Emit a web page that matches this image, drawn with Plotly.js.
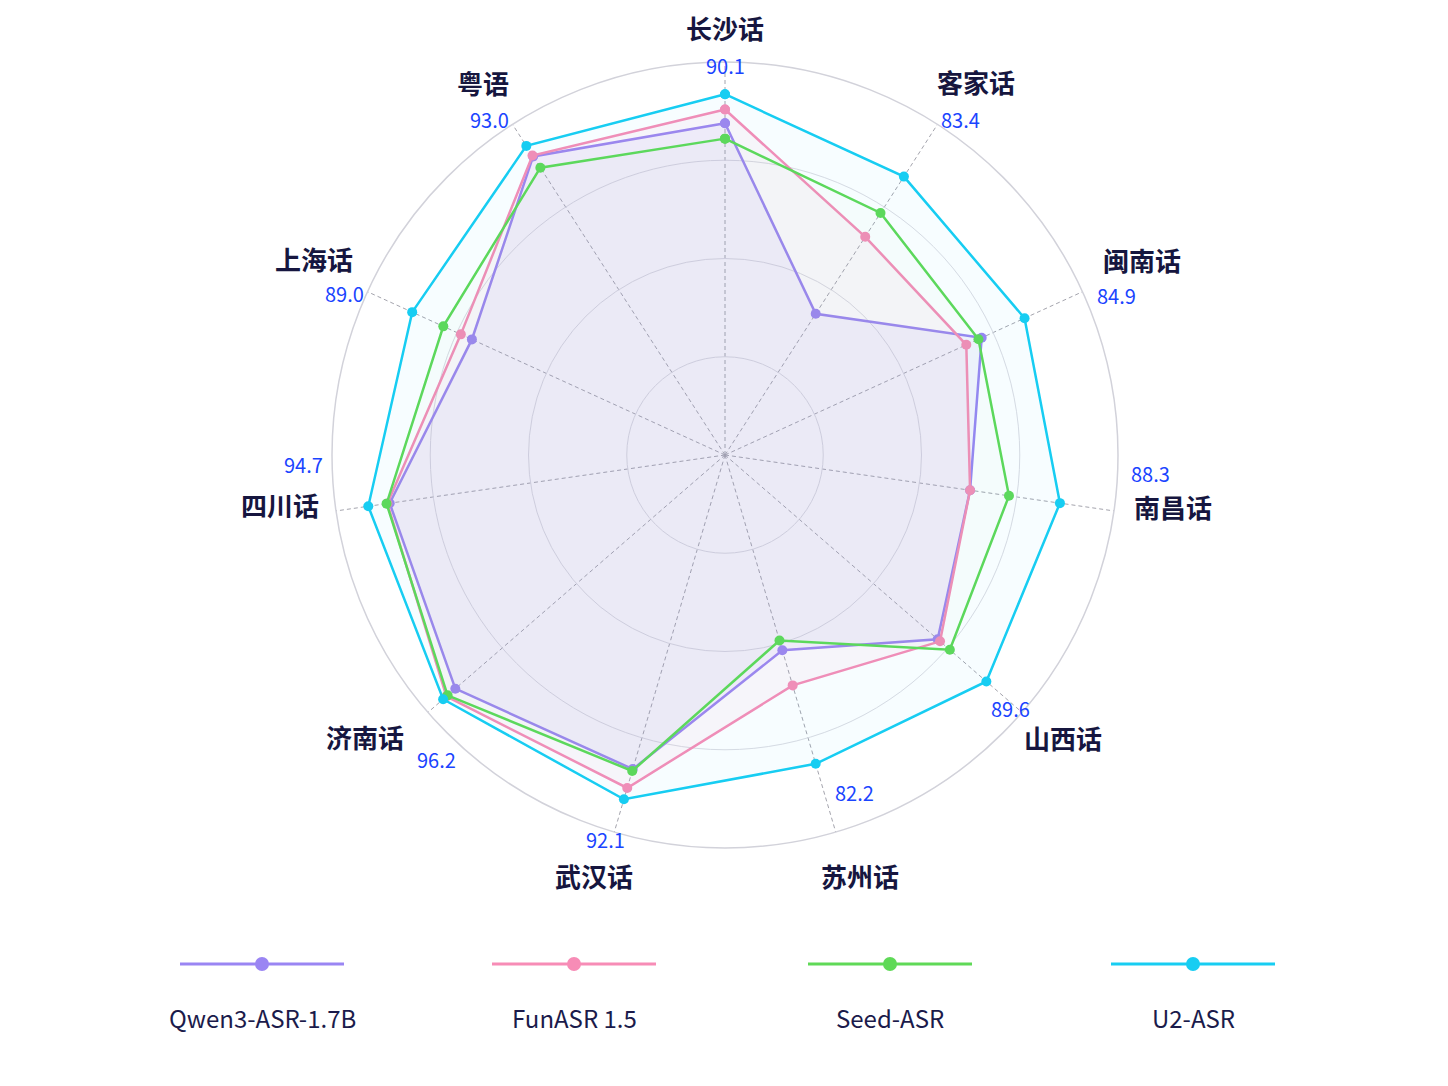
<!DOCTYPE html>
<html>
<head>
<meta charset="utf-8">
<script src="https://cdn.plot.ly/plotly-3.0.1.min.js"></script>
<style>
    html, body { margin: 0; padding: 0; background: #ffffff; }
    #radar-chart { width: 1448px; height: 1086px; }
</style>
</head>
<body>
<div id="radar-chart"></div>
<script>
// dialects, clockwise from the top
const dialects = ['长沙话', '客家话', '闽南话', '南昌话', '山西话', '苏州话', '武汉话', '济南话', '四川话', '上海话', '粤语'];

// radar positions per model (0-100 on every axis)
const qwenValues = [84.4, 42.7, 71.8, 63.0, 71.6, 51.8, 83.3, 90.8, 86.2, 70.8, 90.3];
const funasrValues = [87.9, 66.0, 67.5, 63.0, 72.4, 61.1, 88.3, 93.8, 86.8, 73.9, 90.6];
const seedValues = [80.5, 73.2, 70.9, 73.0, 75.7, 49.2, 83.8, 93.4, 87.0, 78.8, 86.9];
const u2Values = [91.8, 84.2, 83.8, 86.1, 88.0, 81.9, 91.3, 94.9, 91.7, 87.5, 93.5];

// U2-ASR score printed at each axis
const u2Scores = ['90.1', '83.4', '84.9', '88.3', '89.6', '82.2', '92.1', '96.2', '94.7', '89.0', '93.0'];

const modelNames = ['Qwen3-ASR-1.7B', 'FunASR 1.5', 'Seed-ASR', 'U2-ASR'];

// label placement around the circle: [degrees clockwise from top, radius in axis units]
const nameSpots = [
    [0, 108.9], [33.9, 114.4], [64.9, 117.1], [96.5, 114.7], [129.9, 112.2], [162.2, 112.3],
    [197.3, 112.0], [232.0, 116.2], [263.6, 113.9], [295.5, 115.9], [327.0, 113.1],
];
const scoreSpots = [
    [0, 99.2], [35, 104.3], [67.8, 107.7], [92.5, 108.5], [131.6, 97.2], [159, 92],
    [197.2, 102.4], [223.5, 106.7], [268.7, 107.3], [293, 105.3], [325, 104.3],
];

const seriesStyles = [
    {line: '#9a85f3', fill: 'rgba(154, 133, 243, 0.08)'},
    {line: '#f78cb6', fill: 'rgba(247, 140, 182, 0.07)'},
    {line: '#5fd957', fill: 'rgba(95, 217, 87, 0.02)'},
    {line: '#17cdf2', fill: 'rgba(23, 205, 242, 0.035)'},
];

const FONT = '"Noto Sans CJK SC", "Noto Sans", sans-serif';
const W = 1448, H = 1086;

const polarDomain = {
    x: [332 / W, 1118 / W],
    y: [(H - 455 - 393) / H, (H - 455 + 393) / H],
};

function closeLoop(arr) {
    return arr.concat([arr[0]]);
}

function radarTrace(name, values, style) {
    return {
        type: 'scatterpolar',
        name: name,
        r: closeLoop(values),
        theta: closeLoop(dialects),
        mode: 'lines+markers',
        fill: 'toself',
        fillcolor: style.fill,
        line: { color: style.line, width: 2.5 },
        marker: { color: style.line, size: 10 },
        hoverinfo: 'name+theta+r',
    };
}

// polar spot (radial range 0-100) -> paper coords of the polar domain
function spotToPaper(theta, r) {
    const cx = (polarDomain.x[0] + polarDomain.x[1]) / 2 * W;
    const cy = (polarDomain.y[0] + polarDomain.y[1]) / 2 * H;
    const radius = (polarDomain.x[1] - polarDomain.x[0]) / 2 * W;
    const a = theta * Math.PI / 180;
    return {
        x: (cx + r / 100 * radius * Math.sin(a)) / W,
        y: (cy + r / 100 * radius * Math.cos(a)) / H,
    };
}

const allValues = [qwenValues, funasrValues, seedValues, u2Values];
const data = allValues.map((vals, i) => radarTrace(modelNames[i], vals, seriesStyles[i]));

const shapes = [];
const annotations = [];

dialects.forEach((name, i) => {
    const p = spotToPaper(nameSpots[i][0], nameSpots[i][1]);
    annotations.push({
        text: '<b>' + name + '</b>', xref: 'paper', yref: 'paper',
        x: p.x, y: p.y, xanchor: 'center', yanchor: 'middle',
        showarrow: false,
        font: { family: FONT, size: 26, color: '#16163f' },
    });
    const s = spotToPaper(scoreSpots[i][0], scoreSpots[i][1]);
    annotations.push({
        text: u2Scores[i], xref: 'paper', yref: 'paper',
        x: s.x, y: s.y, xanchor: 'center', yanchor: 'middle',
        showarrow: false,
        font: { family: FONT, size: 20, color: '#1a44ff' },
    });
});

// legend: line sample with a dot, name underneath
const legendCenters = [262, 574, 890, 1193];
const legendHalf = 82;
const legendLineY = 964;
const legendTextY = 1017;

modelNames.forEach((name, i) => {
    const cx = legendCenters[i] / W;
    const ly = 1 - legendLineY / H;
    shapes.push({
        type: 'line', xref: 'paper', yref: 'paper',
        x0: (legendCenters[i] - legendHalf) / W, x1: (legendCenters[i] + legendHalf) / W,
        y0: ly, y1: ly,
        line: { color: seriesStyles[i].line, width: 3 },
    });
    shapes.push({
        type: 'circle', xref: 'paper', yref: 'paper',
        xsizemode: 'pixel', ysizemode: 'pixel',
        xanchor: cx, yanchor: ly,
        x0: -7, x1: 7, y0: -7, y1: 7,
        fillcolor: seriesStyles[i].line,
        line: { width: 0 },
    });
    annotations.push({
        text: name, xref: 'paper', yref: 'paper',
        x: cx, y: 1 - legendTextY / H,
        xanchor: 'center', yanchor: 'middle',
        showarrow: false,
        font: { family: FONT, size: 24, color: '#1b1b4b' },
    });
});

const layout = {
    width: W,
    height: H,
    paper_bgcolor: '#ffffff',
    margin: {t: 0, r: 0, b: 0, l: 0},
    showlegend: false,
    font: { family: FONT },
    polar: {
        domain: polarDomain,
        bgcolor: 'rgba(0,0,0,0)',
        radialaxis: {
            range: [0, 100],
            tickvals: [25, 50, 75, 100],
            showticklabels: false,
            ticks: '',
            showline: false,
            gridcolor: '#dcdce3',
            gridwidth: 1,
        },
        angularaxis: {
            type: 'category',
            rotation: 90,
            direction: 'clockwise',
            showline: true,
            linecolor: '#d2d2da',
            linewidth: 1.5,
            gridcolor: '#a4a4ad',
            griddash: '4px,3px',
            gridwidth: 1,
            ticks: '',
            showticklabels: false,
        },
    },
    shapes: shapes,
    annotations: annotations,
};

const config = {
    responsive: false,
    displayModeBar: false,
    displaylogo: false,
};

Plotly.newPlot('radar-chart', data, layout, config);
</script>
</body>
</html>
